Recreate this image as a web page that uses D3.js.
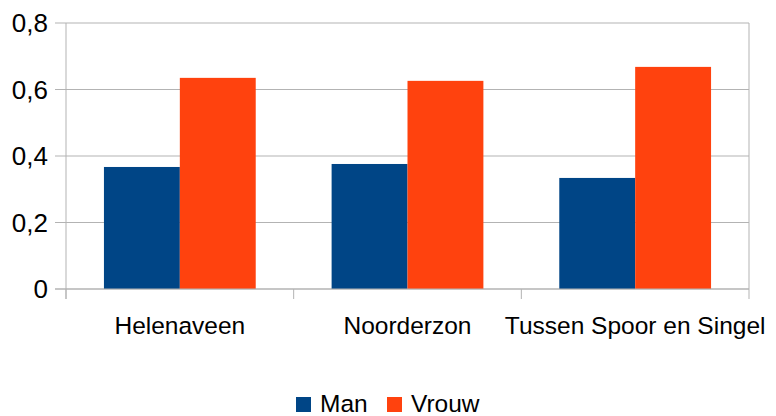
<!DOCTYPE html>
<html lang="nl">
<head>
  <meta charset="UTF-8">
  <script src="https://d3js.org/d3.v7.min.js"></script>
  <style>
    body { margin: 0; background: #fff; }
    text { font-family: "Liberation Sans", Arial, sans-serif; fill: #000; }
  </style>
</head>
<body>
  <svg width="776" height="416"></svg>
  <script>
    const categories = ["Helenaveen", "Noorderzon", "Tussen Spoor en Singel"];
    const series = ["Man", "Vrouw"];
    const manValues = [0.367, 0.376, 0.334];
    const vrouwValues = [0.635, 0.626, 0.668];
    const yTicks = [0, 0.2, 0.4, 0.6, 0.8];
    const colors = ["#004586", "#ff420e"];

    const width = 776, height = 416;
    const margin = { top: 23, right: 27, bottom: 127, left: 66 };
    const svg = d3.select("svg");

    const x = d3.scaleBand().domain(categories)
      .range([margin.left, width - margin.right])
      .paddingInner(1 / 3).paddingOuter(1 / 6);
    const xCat = d3.scaleBand().domain(categories)
      .range([margin.left, width - margin.right]);
    const xSub = d3.scaleBand().domain(series).range([0, x.bandwidth()]);
    const y = d3.scaleLinear().domain([0, 0.8]).range([height - margin.bottom, margin.top]);

    const fmt = d => d3.format(".1~f")(d).replace(".", ",");

    // grid
    svg.append("g").selectAll("line").data(yTicks).enter().append("line")
      .attr("x1", margin.left - 11).attr("x2", width - margin.right)
      .attr("y1", d => y(d)).attr("y2", d => y(d))
      .attr("stroke", "#b3b3b3").attr("stroke-width", 1);

    // right border
    svg.append("line")
      .attr("x1", width - margin.right).attr("x2", width - margin.right)
      .attr("y1", y(0.8)).attr("y2", y(0))
      .attr("stroke", "#b3b3b3");

    // bars
    const rows = categories.map((c, i) => ({ cat: c, vals: [manValues[i], vrouwValues[i]] }));
    const grp = svg.append("g").selectAll("g").data(rows).enter().append("g")
      .attr("transform", d => `translate(${x(d.cat)},0)`);
    grp.selectAll("rect").data(d => d.vals.map((v, j) => ({ s: series[j], v, j }))).enter()
      .append("rect")
      .attr("x", d => xSub(d.s))
      .attr("width", xSub.bandwidth())
      .attr("y", d => y(d.v))
      .attr("height", d => y(0) - y(d.v))
      .attr("fill", d => colors[d.j]);

    // axes lines
    svg.append("line")
      .attr("x1", margin.left).attr("x2", margin.left)
      .attr("y1", y(0.8)).attr("y2", y(0) + 10)
      .attr("stroke", "#b3b3b3");
    svg.append("line")
      .attr("x1", margin.left - 11).attr("x2", width - margin.right)
      .attr("y1", y(0)).attr("y2", y(0))
      .attr("stroke", "#b3b3b3");
    const bounds = categories.map(c => xCat(c)).concat([width - margin.right]);
    svg.append("g").selectAll("line").data(bounds).enter().append("line")
      .attr("x1", d => d).attr("x2", d => d)
      .attr("y1", y(0)).attr("y2", y(0) + 10)
      .attr("stroke", "#b3b3b3");

    // y labels
    svg.append("g").selectAll("text").data(yTicks).enter().append("text")
      .attr("x", 48).attr("y", d => y(d))
      .attr("dy", "0.35em")
      .attr("text-anchor", "end")
      .style("font-size", "26px")
      .text(fmt);

    // x labels
    svg.append("g").selectAll("text").data(categories).enter().append("text")
      .attr("x", d => xCat(d) + xCat.bandwidth() / 2)
      .attr("y", 334)
      .attr("text-anchor", "middle")
      .style("font-size", "24.5px")
      .text(d => d);

    // legend
    const legendX = [296, 387];
    const lg = svg.append("g").selectAll("g").data(series).enter().append("g")
      .attr("transform", (d, i) => `translate(${legendX[i]},397)`);
    lg.append("rect").attr("width", 15).attr("height", 15)
      .attr("fill", (d, i) => colors[i]);
    lg.append("text").attr("x", 24).attr("y", 15)
      .style("font-size", "24.5px")
      .text(d => d);
  </script>
</body>
</html>
